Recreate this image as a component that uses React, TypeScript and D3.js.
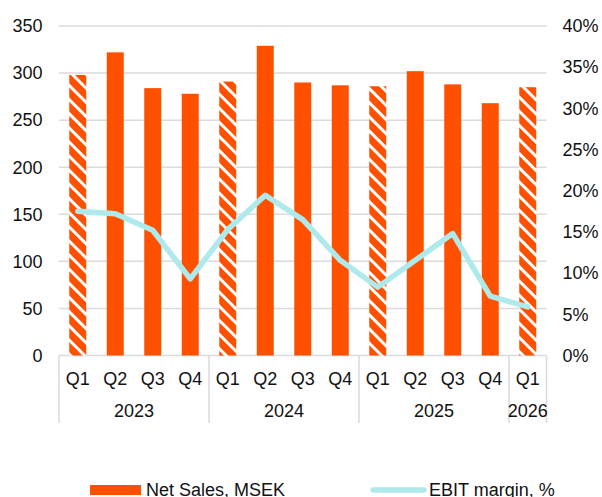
import React from "react";
import * as d3 from "d3";

const quarters = ["Q1", "Q2", "Q3", "Q4", "Q1", "Q2", "Q3", "Q4", "Q1", "Q2", "Q3", "Q4", "Q1"];
const years = ["2023", "2023", "2023", "2023", "2024", "2024", "2024", "2024", "2025", "2025", "2025", "2025", "2026"];
const netSales = [298, 322, 284, 278, 291, 329, 290, 287, 286, 302, 288, 268, 285];
const hatched = [true, false, false, false, true, false, false, false, true, false, false, false, true];
const ebitMargin = [17.5, 17.2, 15.2, 9.3, 15.3, 19.45, 16.5, 11.55, 8.3, 11.55, 14.8, 7.2, 5.9];
const leftTicks = [0, 50, 100, 150, 200, 250, 300, 350];
const rightTicks = [0, 5, 10, 15, 20, 25, 30, 35, 40];
const yearGroups = ["2023", "2024", "2025", "2026"];

const W = 602;
const H = 497;
const plotLeft = 59;
const plotRight = 546.5;
const plotTop = 26;
const plotBottom = 355.5;
const ORANGE = "#FF5000";
const CYAN = "#AEE9EC";
const GRID = "#DADADF";
const FONT = "'Liberation Sans', Arial, sans-serif";
const FS = 18;

export default function App() {
  const idx = quarters.map((_, i) => String(i));
  const x = d3.scaleBand<string>().domain(idx).range([plotLeft, plotRight]).paddingInner(0.547).paddingOuter(0.2735);
  const step = (plotRight - plotLeft) / quarters.length;
  const yL = d3.scaleLinear().domain([0, 350]).range([plotBottom, plotTop]);
  const yR = d3.scaleLinear().domain([0, 40]).range([plotBottom, plotTop]);
  const line = d3
    .line<number>()
    .x((_, i) => (x(String(i)) as number) + x.bandwidth() / 2)
    .y((d) => yR(d));

  const groups = yearGroups.map((yr) => {
    const first = years.indexOf(yr);
    const last = years.lastIndexOf(yr);
    return { yr, x0: plotLeft + first * step, x1: plotLeft + (last + 1) * step };
  });
  const seps = [plotLeft, ...groups.map((g) => g.x1)];

  return (
    <svg width={W} height={H} style={{ position: "absolute", left: 0, top: 0, fontFamily: FONT }}>
      <defs>
        <pattern id="hatch" patternUnits="userSpaceOnUse" width={10} height={10} patternTransform="rotate(45)">
          <rect x={0} y={0} width={10} height={10} fill={ORANGE} />
          <rect x={0} y={0} width={10} height={3} fill="#FFFFFF" />
        </pattern>
      </defs>
      <rect width={W} height={H} fill="#fff" />
      {leftTicks.map((t) => (
        <line key={"g" + t} x1={plotLeft} x2={plotRight} y1={yL(t)} y2={yL(t)} stroke={GRID} strokeWidth={1.5} />
      ))}
      {netSales.map((v, i) => (
        <rect
          key={"b" + i}
          x={x(String(i))}
          y={yL(v)}
          width={x.bandwidth()}
          height={yL(0) - yL(v)}
          fill={hatched[i] ? "url(#hatch)" : ORANGE}
        />
      ))}
      <path d={line(ebitMargin) || ""} fill="none" stroke={CYAN} strokeWidth={5.5} strokeLinecap="round" strokeLinejoin="round" />
      {seps.map((s, i) => (
        <line key={"s" + i} x1={s} x2={s} y1={plotBottom} y2={423} stroke={GRID} strokeWidth={1.5} />
      ))}
      {leftTicks.map((t) => (
        <text key={"l" + t} x={42.5} y={yL(t)} dy="0.35em" textAnchor="end" fontSize={FS} fill="#111">
          {t}
        </text>
      ))}
      {rightTicks.map((t) => (
        <text key={"r" + t} x={562.5} y={yR(t)} dy="0.35em" textAnchor="start" fontSize={FS} fill="#111">
          {t + "%"}
        </text>
      ))}
      {quarters.map((q, i) => (
        <text key={"q" + i} x={(x(String(i)) as number) + x.bandwidth() / 2} y={378.5} dy="0.35em" textAnchor="middle" fontSize={FS} fill="#111">
          {q}
        </text>
      ))}
      {groups.map((g) => (
        <text key={"y" + g.yr} x={(g.x0 + g.x1) / 2} y={411} dy="0.35em" textAnchor="middle" fontSize={FS} fill="#111">
          {g.yr}
        </text>
      ))}
      <rect x={90} y={485} width={51} height={10} fill={ORANGE} />
      <text x={146} y={496.2} fontSize={FS} fill="#111">Net Sales, MSEK</text>
      <line x1={373} x2={424} y1={490} y2={490} stroke={CYAN} strokeWidth={5.5} strokeLinecap="round" />
      <text x={429} y={496.2} fontSize={FS} fill="#111">EBIT margin, %</text>
    </svg>
  );
}
